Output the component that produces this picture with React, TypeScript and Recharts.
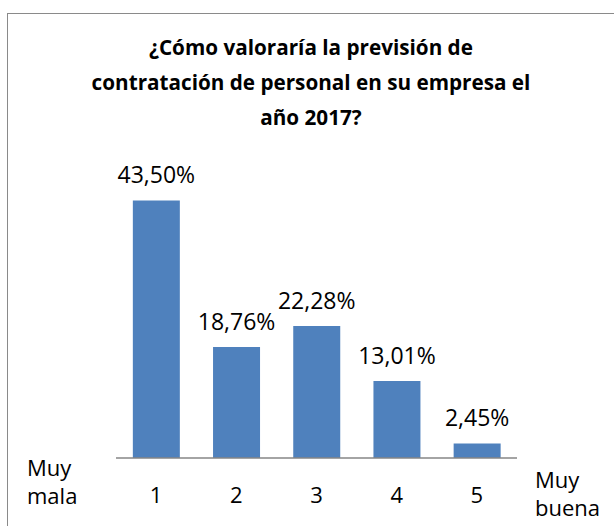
import React from 'react';
import { BarChart, Bar, XAxis, YAxis, LabelList } from 'recharts';

const categories = ['1', '2', '3', '4', '5'];
const values = [43.5, 18.76, 22.28, 13.01, 2.45];
const valueLabels = ['43,50%', '18,76%', '22,28%', '13,01%', '2,45%'];

const data = categories.map((name, i) => ({ name, value: values[i], label: valueLabels[i] }));

const FONT = '"Open Sans", "Noto Sans", sans-serif';
const BAR_COLOR = '#4F81BD';
const AXIS_COLOR = '#868686';

const App: React.FC = () => {
    return (
        <div style={{ position: 'absolute', left: 0, top: 0, width: 614, height: 526, overflow: 'hidden', background: '#fff', fontFamily: FONT }}>
            <div style={{ position: 'absolute', left: 7, top: 13, width: 700, height: 600, border: '1px solid #8a8a8a' }} />
            <div style={{ position: 'absolute', left: 11, top: 30, width: 600, textAlign: 'center', fontWeight: 700, fontSize: 20.7, lineHeight: '35px', color: '#000' }}>
                ¿Cómo valoraría la previsión de<br />
                contratación de personal en su empresa el<br />
                año 2017?
            </div>
            <div style={{ position: 'absolute', top: 0, left: 0 }}>
                <BarChart width={614} height={526} data={data} margin={{ top: 162, right: 97, bottom: 38, left: 116 }} barCategoryGap="21%">
                    <XAxis dataKey="name" tickLine={false} tickSize={0} tickMargin={29} axisLine={{ stroke: AXIS_COLOR, strokeWidth: 1.5 }} tick={{ fill: '#000', fontSize: 22, fontFamily: FONT }} />
                    <YAxis width={0} domain={[0, 50]} tick={false} tickLine={false} axisLine={{ stroke: AXIS_COLOR, strokeWidth: 1.5 }} />
                    <Bar dataKey="value" fill={BAR_COLOR} isAnimationActive={false}>
                        <LabelList dataKey="label" position="top" offset={17} fill="#000" fontSize={23} fontFamily={FONT} />
                    </Bar>
                </BarChart>
            </div>
            <div style={{ position: 'absolute', left: 27, top: 453, fontSize: 22, lineHeight: '28px', color: '#000' }}>
                Muy<br />mala
            </div>
            <div style={{ position: 'absolute', left: 535, top: 465, fontSize: 22, lineHeight: '28px', color: '#000' }}>
                Muy<br />buena
            </div>
        </div>
    );
};

export default App;
